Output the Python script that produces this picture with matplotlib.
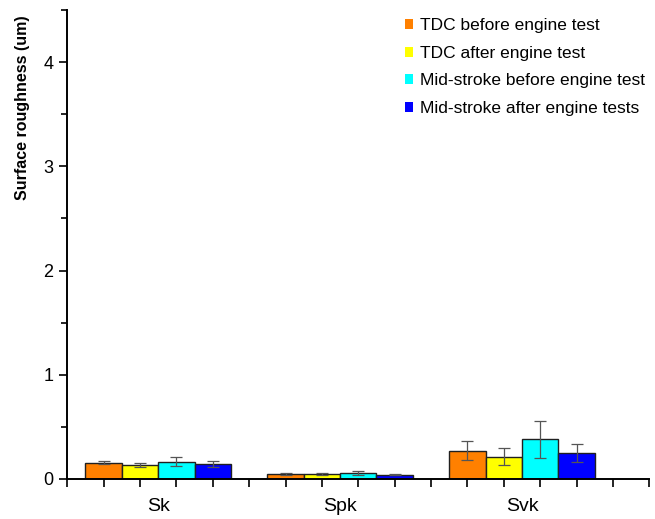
import matplotlib
matplotlib.use("Agg")
import matplotlib.pyplot as plt
from matplotlib.patches import Patch
from matplotlib.ticker import MultipleLocator
import numpy as np

plt.rcParams['font.family'] = ['Liberation Sans', 'DejaVu Sans']

categories = ["Sk", "Spk", "Svk"]
series = ["TDC before engine test", "TDC after engine test",
          "Mid-stroke before engine test", "Mid-stroke after engine tests"]
colors = ["#FF8000", "#FFFF00", "#00FFFF", "#0000FF"]

tdc_before = [0.157, 0.048, 0.272]
tdc_after = [0.134, 0.045, 0.214]
mid_before = [0.166, 0.060, 0.381]
mid_after = [0.144, 0.042, 0.246]
values = [tdc_before, tdc_after, mid_before, mid_after]

tdc_before_err = [0.015, 0.012, 0.093]
tdc_after_err = [0.020, 0.010, 0.080]
mid_before_err = [0.042, 0.020, 0.178]
mid_after_err = [0.030, 0.006, 0.087]
errors = [tdc_before_err, tdc_after_err, mid_before_err, mid_after_err]

fig = plt.figure(figsize=(6.55, 5.19), dpi=100)
ax = fig.add_axes([0.1027, 0.0771, 0.8886, 0.9036])

width = 0.2
x = np.arange(1, len(categories) + 1)
for i, (vals, errs, col, lab) in enumerate(zip(values, errors, colors, series)):
    pos = x + (i - 1.5) * width
    ax.bar(pos, vals, width=width, color=col, edgecolor="#202020",
           linewidth=1.0, label=lab, zorder=2)
    ax.errorbar(pos, vals, yerr=errs, fmt="none", ecolor="#555555",
                elinewidth=0.9, capsize=4, capthick=0.9, zorder=3)

ax.set_xlim(0.5, 3.7)
ax.set_ylim(0, 4.5)

for side in ("top", "right"):
    ax.spines[side].set_visible(False)
for side in ("left", "bottom"):
    ax.spines[side].set_linewidth(1.4)

ax.set_xticks(x)
ax.set_xticklabels(categories, fontsize=14)
ax.tick_params(axis="x", which="major", length=0, pad=14)
ax.xaxis.set_minor_locator(MultipleLocator(0.2, offset=0.5))
ax.tick_params(axis="x", which="minor", direction="out", length=6, width=1.2)

ax.set_yticks([0, 1, 2, 3, 4])
ax.yaxis.set_minor_locator(MultipleLocator(0.5))
ax.tick_params(axis="y", which="major", direction="out", length=6, width=1.2,
               labelsize=13, pad=4)
ax.tick_params(axis="y", which="minor", direction="out", length=4, width=1.2)

fig.text(0.034, 0.792, "Surface roughness (um)", rotation=90, fontsize=11.5,
         fontweight="bold", ha="center", va="center")

handles = [Patch(facecolor=c, edgecolor="none") for c in colors]
fig.legend(handles, series, loc="upper left", bbox_to_anchor=(0.607, 0.978),
           frameon=False, fontsize=12.5, handlelength=0.5, handleheight=0.5,
           handletextpad=0.4, labelspacing=0.72, borderaxespad=0)

fig.savefig("out.png", dpi=100)
